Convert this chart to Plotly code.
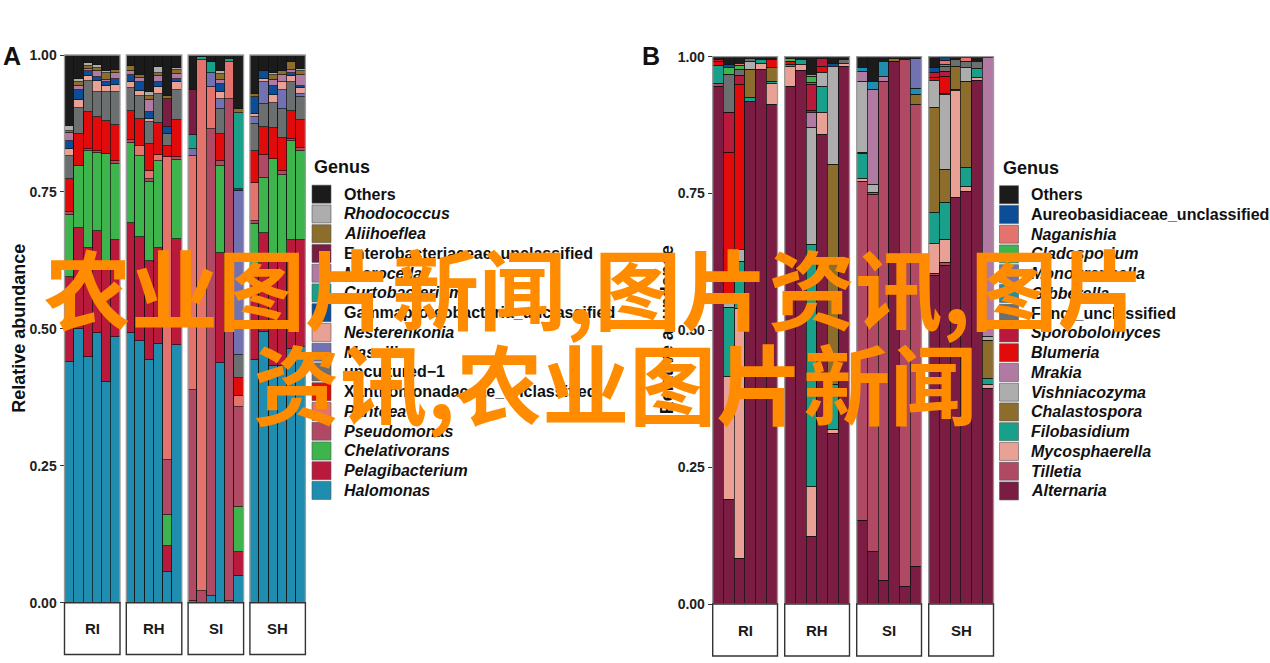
import plotly.graph_objects as go

W, H = 1270, 663
def PX(x): return x / W
def PY(y): return 1 - y / H

facets = ["RI", "RH", "SI", "SH"]
samples = [1, 2, 3, 4, 5, 6]

# ---------------- Panel A (bacteria) : 24 bars = RI1-6, RH1-6, SI1-6, SH1-6 -------------
a_others      = [0.130,0.043,0.015,0.018,0.029,0.027, 0.020,0.036,0.068,0.022,0.074,0.024, 0.063,0.003,0.012,0.029,0.007,0.099, 0.071,0.029,0.033,0.029,0.013,0.025]
a_rhodococcus = [0.008,0.006,0.005,0.005,0.004,0,     0,0,0.006,0.011,0,0.003,             0,0,0,0.006,0,0,                   0,0,0.004,0,0,0.004]
a_aliihoeflea = [0.005,0.008,0.006,0.007,0.012,0.006, 0.009,0.006,0.009,0.006,0.006,0.008, 0,0,0,0.010,0,0.006,               0.006,0,0.008,0.008,0.014,0.008]
a_entero      = [0,0,0,0,0,0,                         0,0,0,0,0.052,0,                     0.083,0,0,0,0,0,                   0,0,0,0,0,0]
a_microcella  = [0.014,0.006,0.004,0.011,0.005,0.010, 0.008,0.008,0.021,0.011,0,0.008,     0,0,0,0.008,0,0,                   0,0,0.012,0.013,0.005,0.020]
a_curto       = [0,0,0,0,0,0,                         0,0,0,0,0,0,                         0.025,0.006,0.021,0,0.005,0.139,   0,0,0,0,0,0]
a_gamma       = [0.015,0.020,0.008,0.006,0.006,0.012, 0.013,0.015,0.012,0.009,0.012,0.007, 0,0,0,0.015,0,0.004,               0.031,0.014,0.016,0,0.006,0.004]
a_nesterenk   = [0.012,0.013,0.009,0.021,0.012,0.012, 0.010,0.009,0.007,0.012,0,0.014,     0,0,0,0.012,0,0,                   0.006,0.007,0.015,0.013,0.012,0.010]
a_massilia    = [0,0,0,0,0,0,                         0,0,0,0,0,0,                         0.014,0,0.026,0.019,0,0.299,       0.012,0.040,0,0.035,0,0.005]
a_uncultured  = [0.043,0.049,0.057,0.046,0.052,0.061, 0.042,0.042,0.040,0.053,0.023,0.054, 0,0,0,0.046,0,0.042,               0.049,0.042,0.046,0.053,0.052,0.042]
a_xantho      = [0.059,0.058,0.068,0.061,0.061,0.065, 0.053,0.051,0.048,0.059,0.020,0.069, 0,0,0,0.048,0,0.034,               0.059,0.051,0.056,0.061,0.051,0.051]
a_pantoea     = [0,0,0,0,0,0,                         0,0.017,0.015,0.010,0.553,0,         0.426,0.970,0.076,0,0.068,0.020,   0.069,0,0,0,0,0]
a_pseudomonas = [0.006,0,0.003,0.004,0,0.006,         0.005,0,0.006,0,0.099,0.004,         0.385,0.021,0.853,0.010,0.916,0.182, 0.006,0.041,0,0.008,0.004,0.006]
a_chelativ    = [0.114,0.112,0.178,0.142,0.201,0.138, 0.147,0.149,0.144,0.159,0.057,0.145, 0,0,0,0.158,0,0.083,               0.094,0.101,0.180,0.152,0.180,0.163]
a_pelagibac   = [0.155,0.185,0.198,0.186,0.215,0.177, 0.201,0.189,0.181,0.175,0.048,0.194, 0,0,0,0.202,0,0.044,               0.153,0.180,0.198,0.195,0.199,0.196]
a_halomonas   = [0.439,0.500,0.449,0.493,0.403,0.486, 0.492,0.478,0.443,0.473,0.056,0.470, 0.004,0,0.012,0.437,0.004,0.048,   0.444,0.495,0.432,0.433,0.464,0.466]

genus_a = ["Others", "Rhodococcus", "Aliihoeflea", "Enterobacteriaceae_unclassified", "Microcella",
           "Curtobacterium", "Gammaproteobacteria_unclassified", "Nesterenkonia", "Massilia",
           "uncultured\u22121", "Xanthomonadaceae_unclassified", "Pantoea", "Pseudomonas",
           "Chelativorans", "Pelagibacterium", "Halomonas"]
values_a = [a_others, a_rhodococcus, a_aliihoeflea, a_entero, a_microcella, a_curto, a_gamma,
            a_nesterenk, a_massilia, a_uncultured, a_xantho, a_pantoea, a_pseudomonas,
            a_chelativ, a_pelagibac, a_halomonas]
colors_a = ["#1b1b1b", "#adadad", "#8c6d2c", "#7b1d42", "#b07aa3", "#18a08a", "#0b4d97", "#e9a196",
            "#7272b2", "#6c6f6f", "#e10b0b", "#e3736c", "#b04a64", "#3db54c", "#b91a3c", "#1e8db0"]
upright_a = {"Others", "Enterobacteriaceae_unclassified", "Gammaproteobacteria_unclassified",
             "uncultured\u22121", "Xanthomonadaceae_unclassified"}

# ---------------- Panel B (fungi) ----------------
b_others      = [0.005,0.015,0.013,0.004,0.005,0.005, 0.003,0.006,0.033,0.003,0.012,0.006, 0.021,0.045,0.010,0.003,0.006,0.003, 0.021,0.002,0.005,0.002,0.010,0.002]
b_aureo       = [0,0.005,0,0,0,0,                     0,0,0,0,0.006,0,                     0,0,0,0,0,0,                       0.009,0.005,0,0,0,0]
b_naganishia  = [0,0,0.004,0,0,0,                     0,0,0.003,0,0,0,                     0,0,0,0,0,0,                       0,0.007,0,0.008,0,0]
b_cladospor   = [0,0.013,0.007,0,0,0,                 0.006,0,0.011,0,0,0,                 0,0,0,0,0,0,                       0,0.005,0,0,0,0]
b_monograph   = [0,0,0,0,0,0,                         0,0,0,0,0,0,                         0,0,0,0,0,0.056,                   0,0,0,0,0,0]
b_gibberella  = [0,0,0,0,0,0,                         0,0,0,0,0,0,                         0.006,0.015,0.026,0,0,0.011,       0,0,0,0,0,0]
b_fungi_uncl  = [0,0.069,0.010,0.005,0,0,             0,0,0.004,0,0,0.007,                 0,0,0,0,0,0,                       0,0.009,0.013,0.010,0.012,0]
b_sporobol    = [0.004,0.074,0.017,0,0,0,             0,0,0.047,0.015,0,0,                 0,0,0,0,0,0,                       0.008,0.008,0,0,0,0]
b_blumeria    = [0.008,0.261,0.301,0,0,0.015,         0.006,0,0.004,0.012,0,0,             0,0,0,0,0,0,                       0.006,0.031,0,0,0,0]
b_mrakia      = [0,0,0,0,0,0,                         0,0,0.027,0,0,0,                     0.018,0.174,0.009,0,0,0,           0,0.003,0,0,0,0.509]
b_vishnia     = [0,0.022,0.022,0.015,0,0,             0,0,0.215,0.025,0.179,0,             0.130,0.014,0,0,0,0,               0.050,0.137,0,0.025,0,0.008]
b_chalasto    = [0,0,0,0.050,0,0.025,                 0,0,0,0,0.403,0,                     0.003,0.004,0,0.007,0,0.017,       0.191,0.059,0.042,0.158,0,0.070]
b_filobas     = [0.033,0.126,0.086,0.009,0.008,0.004, 0.004,0.008,0.442,0.048,0.082,0,     0.044,0,0,0,0,0,                   0.057,0.068,0.002,0.035,0.016,0.011]
b_mycosph     = [0,0.225,0.458,0,0.011,0.039,         0.035,0.011,0.091,0.040,0.007,0.005, 0.007,0,0,0,0,0,                   0.054,0.042,0.196,0.008,0.005,0.006]
b_tilletia    = [0.005,0,0,0,0,0,                     0,0,0,0,0,0,                         0.619,0.652,0.912,0,0.962,0.844,   0.004,0.006,0,0,0,0]
b_alternaria  = [0.945,0.190,0.082,0.917,0.976,0.912, 0.946,0.975,0.123,0.857,0.311,0.982, 0.152,0.096,0.043,0.990,0.032,0.069, 0.600,0.618,0.742,0.754,0.957,0.394]

genus_b = ["Others", "Aureobasidiaceae_unclassified", "Naganishia", "Cladosporium", "Monographella",
           "Gibberella", "Fungi_unclassified", "Sporobolomyces", "Blumeria", "Mrakia",
           "Vishniacozyma", "Chalastospora", "Filobasidium", "Mycosphaerella", "Tilletia", "Alternaria"]
values_b = [b_others, b_aureo, b_naganishia, b_cladospor, b_monograph, b_gibberella, b_fungi_uncl,
            b_sporobol, b_blumeria, b_mrakia, b_vishnia, b_chalasto, b_filobas, b_mycosph,
            b_tilletia, b_alternaria]
colors_b = ["#1b1b1b", "#0b4d97", "#e3736c", "#3db54c", "#7272b2", "#1e8db0", "#6c6f6f", "#b91a3c",
            "#e10b0b", "#b07aa3", "#adadad", "#8c6d2c", "#18a08a", "#e9a196", "#b04a64", "#7b1d42"]
upright_b = {"Others", "Aureobasidiaceae_unclassified", "Fungi_unclassified"}

tick_vals = [0, 0.25, 0.5, 0.75, 1.0]
tick_text = ["0.00", "0.25", "0.50", "0.75", "1.00"]

FONT = "Liberation Sans, Arial, sans-serif"

panels = [
    dict(letter="A", genera=genus_a, values=values_a, colors=colors_a, upright=upright_a,
         fx0=64.5, fstep=61.8, fw=55.5, ytop=55.0, ybot=602.7, strip_b=654.5,
         ax0=1, yname="y", letter_xy=(12, 56), ytitle_x=19,
         leg_key_x=(312, 331), leg_text_x=341.7, leg_title=(311.5, 167), leg_y0=194.2),
    dict(letter="B", genera=genus_b, values=values_b, colors=colors_b, upright=upright_b,
         fx0=712.7, fstep=72.0, fw=64.8, ytop=56.7, ybot=604.0, strip_b=656.0,
         ax0=5, yname="y2", letter_xy=(651, 56), ytitle_x=667,
         leg_key_x=(999.5, 1018.5), leg_text_x=1028.5, leg_title=(1000.5, 168), leg_y0=194.7),
]

fig = go.Figure()
shapes, annotations = [], []
layout = dict()

for p in panels:
    ydom = [PY(p["ybot"]), PY(p["ytop"])]
    yref_key = "yaxis" if p["yname"] == "y" else "yaxis" + p["yname"][1:]
    layout[yref_key] = dict(domain=ydom, range=[0, 1], anchor="x%d" % p["ax0"] if p["ax0"] > 1 else "x",
                            tickvals=tick_vals, ticktext=tick_text, ticks="outside", ticklen=4,
                            tickwidth=1.2, tickcolor="#333333", showgrid=False, zeroline=False,
                            showline=False, fixedrange=True, automargin=False,
                            tickfont=dict(family=FONT, size=14, color="#222222", weight="bold"))
    for fi, fname in enumerate(facets):
        axn = p["ax0"] + fi
        xname = "x" if axn == 1 else "x%d" % axn
        xkey = "xaxis" if axn == 1 else "xaxis%d" % axn
        x0 = p["fx0"] + fi * p["fstep"]
        layout[xkey] = dict(domain=[PX(x0), PX(x0 + p["fw"])], range=[0.5, 6.5], anchor=p["yname"],
                            showticklabels=False, ticks="", showgrid=False, zeroline=False,
                            showline=False, fixedrange=True, automargin=False)
        # stack bottom (last legend entry) to top (Others)
        for gi in range(len(p["genera"]) - 1, -1, -1):
            vals = p["values"][gi][fi * 6:(fi + 1) * 6]
            yv = [v if v > 0 else None for v in vals]
            fig.add_trace(go.Bar(x=samples, y=yv, xaxis=xname, yaxis=p["yname"], width=1,
                                 name=p["genera"][gi], showlegend=False,
                                 marker=dict(color=p["colors"][gi], line=dict(color="#111111", width=0.7)),
                                 hovertemplate=fname + " %{x}<br>" + p["genera"][gi] + ": %{y:.3f}<extra></extra>"))
        # facet border
        shapes.append(dict(type="rect", xref=xname + " domain", yref=p["yname"] + " domain",
                           x0=0, x1=1, y0=0, y1=1, line=dict(color="#9a9a9a", width=1.3),
                           fillcolor="rgba(0,0,0,0)", layer="above"))
        # strip box
        shapes.append(dict(type="rect", xref=xname + " domain", yref="paper", x0=0, x1=1,
                           y0=PY(p["strip_b"]), y1=PY(p["ybot"]),
                           line=dict(color="#333333", width=1.4), fillcolor="white"))
        annotations.append(dict(text=fname, xref=xname + " domain", yref="paper", x=0.5,
                                y=PY((p["ybot"] + p["strip_b"]) / 2), showarrow=False,
                                xanchor="center", yanchor="middle",
                                font=dict(family=FONT, size=15, color="#1a1a1a", weight="bold")))
    # panel letter
    annotations.append(dict(text=p["letter"], xref="paper", yref="paper", x=PX(p["letter_xy"][0]),
                            y=PY(p["letter_xy"][1]), showarrow=False, xanchor="center", yanchor="middle",
                            font=dict(family=FONT, size=25, color="#111111", weight="bold")))
    # y title
    annotations.append(dict(text="Relative abundance", xref="paper", yref="paper", x=PX(p["ytitle_x"]),
                            y=PY((p["ytop"] + p["ybot"]) / 2), showarrow=False, textangle=-90,
                            xanchor="center", yanchor="middle",
                            font=dict(family=FONT, size=18, color="#111111", weight="bold")))
    # legend
    annotations.append(dict(text="Genus", xref="paper", yref="paper", x=PX(p["leg_title"][0]),
                            y=PY(p["leg_title"][1]), showarrow=False, xanchor="left", yanchor="middle",
                            font=dict(family=FONT, size=18, color="#111111", weight="bold")))
    for gi, g in enumerate(p["genera"]):
        yc = p["leg_y0"] + gi * 19.75
        shapes.append(dict(type="rect", xref="paper", yref="paper",
                           x0=PX(p["leg_key_x"][0]), x1=PX(p["leg_key_x"][1]),
                           y0=PY(yc + 9), y1=PY(yc - 9), fillcolor=p["colors"][gi],
                           line=dict(color="#555555", width=0.6)))
        annotations.append(dict(text=g, xref="paper", yref="paper", x=PX(p["leg_text_x"]), y=PY(yc),
                                showarrow=False, xanchor="left", yanchor="middle",
                                font=dict(family=FONT, size=16, color="#111111", weight="bold",
                                          style="normal" if g in p["upright"] else "italic")))

# watermark overlay text
wm_font = dict(family="Noto Sans CJK SC", size=87, color="#ff8c00", weight="bold")
annotations.append(dict(text="农业图片新闻,图片资讯,图片", xref="paper", yref="paper", x=PX(42), y=PY(286),
                        showarrow=False, xanchor="left", yanchor="middle", font=wm_font))
annotations.append(dict(text="资讯,农业图片新闻", xref="paper", yref="paper", x=PX(251), y=PY(381),
                        showarrow=False, xanchor="left", yanchor="middle", font=wm_font))

fig.update_layout(width=W, height=H, margin=dict(l=0, r=0, t=0, b=0, autoexpand=False),
                  barmode="stack", bargap=0,
                  plot_bgcolor="white", paper_bgcolor="white", showlegend=False,
                  shapes=shapes, annotations=annotations, **layout)
fig.write_html("out.html", config={"displayModeBar": False},
               post_script="document.body.style.margin='0';")
